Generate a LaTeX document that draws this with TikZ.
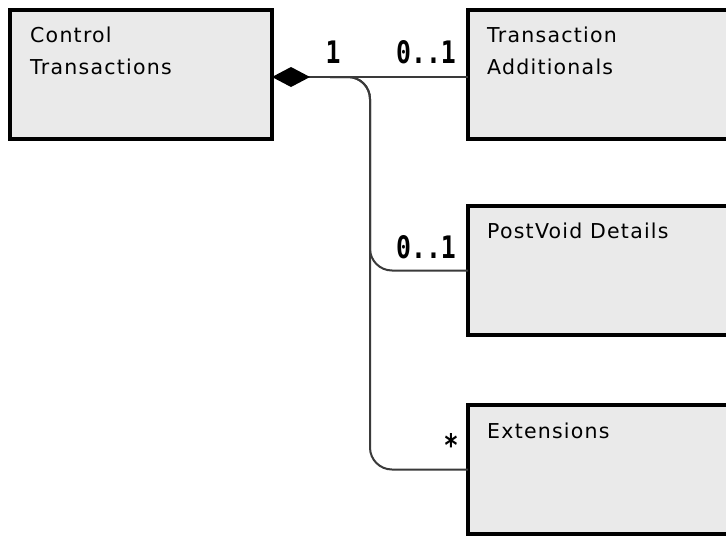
\documentclass[tikz,border=0pt]{standalone}
\usepackage{fontspec}
\setmainfont{DejaVu Sans}
\newfontfamily\titlefont[LetterSpace=6]{DejaVu Sans}
\newfontfamily\multfont[FakeStretch=0.8]{DejaVu Sans Mono Bold}
\usetikzlibrary{arrows.meta}
\definecolor{boxfill}{HTML}{EAEAEA}
\definecolor{linecol}{HTML}{3A3A3A}
\begin{document}
\begin{tikzpicture}[x=1pt,y=-1pt,
  entity/.style={draw=black,line width=4pt,fill=boxfill,rectangle,inner sep=0pt,outer sep=0pt,
    minimum height=129pt},
  title/.style={anchor=base west,inner sep=0pt,align=left,font=\titlefont\fontsize{20.5}{32}\selectfont},
  mult/.style={anchor=base,inner sep=0pt,font=\multfont\fontsize{31}{31}\selectfont},
  conn/.style={draw=linecol,line width=2pt},
  branch/.style={conn,rounded corners=22pt}]
\clip (0,0) rectangle (726,536);
\fill[white] (0,0) rectangle (726,536);
% entities
\node[entity,minimum width=262.5pt] (ctrl) at (140.75,74.5) {};
\node[entity,minimum width=272pt] (ta) at (604,74.5) {};
\node[entity,minimum width=272pt] (pv) at (604,270.5) {};
\node[entity,minimum width=272pt] (ext) at (604,469.5) {};
% titles (base anchor = baseline of last line)
\node[title] (ctrlT) at (30,74) {Control\\Transactions};
\node[title] (taT) at (487,74) {Transaction\\Additionals};
\node[title] (pvT) at (487,238) {PostVoid Details};
\node[title] (extT) at (487,438) {Extensions};
% connectors
\coordinate (split) at (330,77);
\coordinate (bend) at (370,77);
\draw[conn,{Diamond[length=38pt,width=20pt,color=black]}-] ([yshift=-2.5pt]ctrl.east) -- ([yshift=-2.5pt]ta.west);
\draw[branch] (split) -- (bend) |- (pv.west);
\draw[branch] (split) -- (bend) |- (ext.west);
% multiplicities
\node[mult] (m1) at (333,63) {1};
\node[mult] (m2) at (426,63) {0..1};
\node[mult] (m3) at (426,258) {0..1};
\node[mult] (m4) at (451,456) {*};
\end{tikzpicture}
\end{document}
